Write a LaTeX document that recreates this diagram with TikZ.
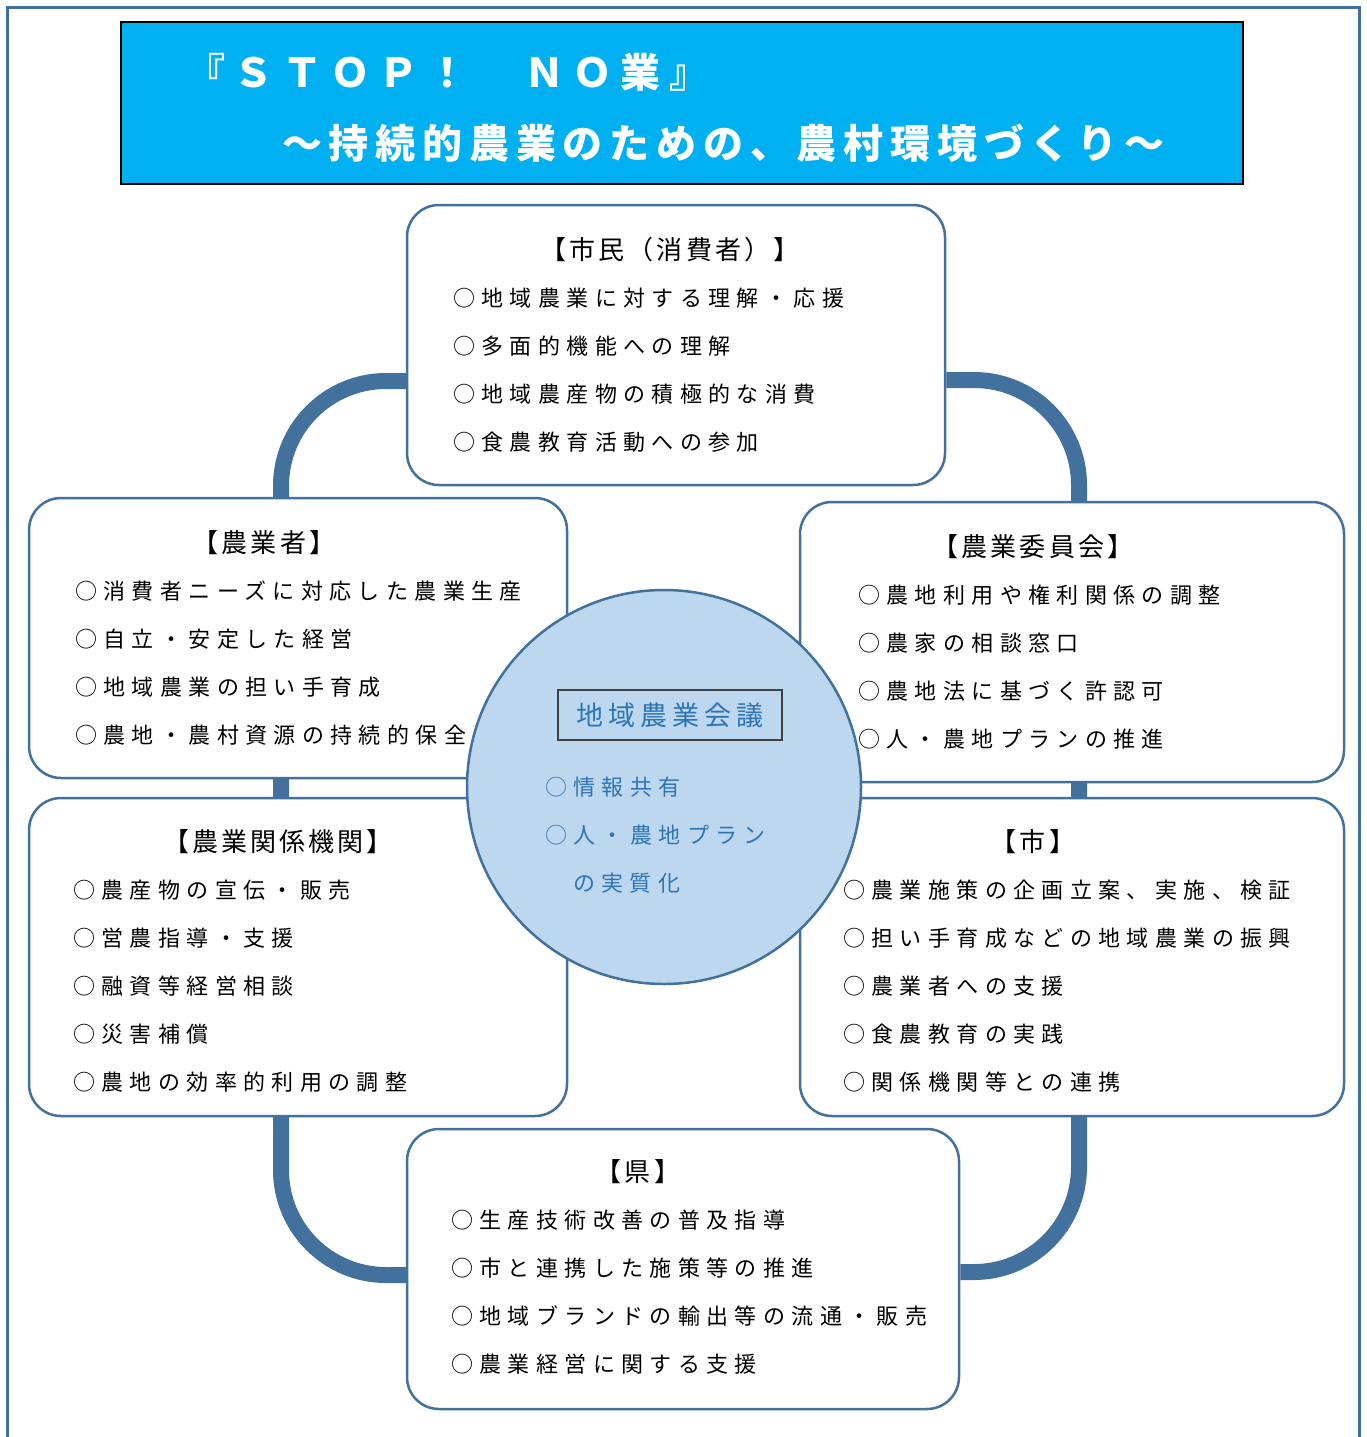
\documentclass[tikz,border=0pt]{standalone}
\usepackage{fontspec}
\newfontfamily\jpfont[LetterSpace=29]{Noto Sans CJK JP}
\newfontfamily\headfont[LetterSpace=12]{Noto Sans CJK JP}
\newfontfamily\titlefont[LetterSpace=17]{Noto Sans CJK JP}
\newfontfamily\stopfont[LetterSpace=21]{Noto Sans CJK JP}
\newfontfamily\kaigifont[LetterSpace=18]{Noto Sans CJK JP}
\usetikzlibrary{positioning,calc,backgrounds}
\definecolor{railblue}{HTML}{41719C}
\definecolor{titlebg}{HTML}{00B0F0}
\definecolor{circbg}{HTML}{BDD7EE}
\definecolor{kaigiblue}{HTML}{2E75B6}

\begin{document}
\begin{tikzpicture}[
    x=1pt, y=-1pt,
    box/.style = {draw=railblue, line width=2.5pt, fill=white, rounded corners=32pt, inner sep=0pt},
    rail/.style = {draw=railblue, line width=16pt, rounded corners=105pt},
    item/.style = {anchor=base west, inner sep=0pt, font=\fontsize{22}{26}\jpfont},
    head/.style = {anchor=base, inner sep=0pt, font=\fontsize{26}{30}\headfont},
    titletext/.style = {anchor=base west, inner sep=0pt, text=white, font=\fontsize{40}{44}\titlefont\bfseries}
  ]
  \useasboundingbox (0,0) rectangle (1367,1437);
  % 外枠
  \draw[railblue, line width=3pt] (7,1437) -- (7,8) -- (1359,8) -- (1359,1437);

  % タイトル
  \node[draw=black, line width=1.5pt, fill=titlebg, minimum width=1122pt, minimum height=162pt, inner sep=0pt] (title) at (682,103) {};
  \node[titletext, font=\fontsize{40}{44}\stopfont\bfseries] (title-1) at (185,88) {『ＳＴＯＰ！　ＮＯ業』};
  \node[titletext] (title-2) at (282,158) {～持続的農業のための、農村環境づくり～};

  % 各主体
  \node[box, minimum width=538pt, minimum height=280pt] (shimin) at (676,345) {};
  \node[box, minimum width=538pt, minimum height=280pt] (nogyosha) at (298,638) {};
  \node[box, minimum width=544pt, minimum height=280pt] (iinkai) at (1072,642) {};
  \node[box, minimum width=538pt, minimum height=318pt] (kikan) at (298,957) {};
  \node[box, minimum width=544pt, minimum height=318pt] (shi) at (1072,957) {};
  \node[box, minimum width=552pt, minimum height=280pt] (ken) at (683,1269) {};

  % つなぐ線
  \coordinate (lrail) at (281,800);
  \coordinate (rrail) at (1079,800);
  \begin{scope}[on background layer]
    \draw[rail] ([yshift=-36pt]shimin.west) -| (lrail) |- ([yshift=-6pt]ken.west);
    \draw[rail] ([yshift=-35pt]shimin.east) -| (rrail) |- ([yshift=-3pt]ken.east);
  \end{scope}

  % 市民
  \node[head] (shimin-h) at (670,259) {【市民（消費者）】};
  \foreach \t [count=\i from 0] in {○地域農業に対する理解・応援, ○多面的機能への理解,
      ○地域農産物の積極的な消費, ○食農教育活動への参加}
    \node[item] (shimin-\i) at (453,{306+48*\i}) {\t};

  % 農業者
  \node[head] (nogyosha-h) at (264,552) {【農業者】};
  \foreach \t [count=\i from 0] in {○消費者ニーズに対応した農業生産, ○自立・安定した経営,
      ○地域農業の担い手育成, ○農地・農村資源の持続的保全}
    \node[item] (nogyosha-\i) at (75,{599+48*\i}) {\t};

  % 農業委員会
  \node[head] (iinkai-h) at (1033,556) {【農業委員会】};
  \foreach \t [count=\i from 0] in {○農地利用や権利関係の調整, ○農家の相談窓口,
      ○農地法に基づく許認可, ○人・農地プランの推進}
    \node[item] (iinkai-\i) at (858,{603+48*\i}) {\t};

  % 農業関係機関
  \node[head] (kikan-h) at (278,851) {【農業関係機関】};
  \foreach \t [count=\i from 0] in {○農産物の宣伝・販売, ○営農指導・支援, ○融資等経営相談,
      ○災害補償, ○農地の効率的利用の調整}
    \node[item] (kikan-\i) at (73,{898+48*\i}) {\t};

  % 市
  \node[head] (shi-h) at (1033,851) {【市】};
  \foreach \t [count=\i from 0] in {○農業施策の企画立案、実施、検証, ○担い手育成などの地域農業の振興,
      ○農業者への支援, ○食農教育の実践, ○関係機関等との連携}
    \node[item] (shi-\i) at (843,{898+48*\i}) {\t};

  % 県
  \node[head] (ken-h) at (638,1181) {【県】};
  \foreach \t [count=\i from 0] in {○生産技術改善の普及指導, ○市と連携した施策等の推進,
      ○地域ブランドの輸出等の流通・販売, ○農業経営に関する支援}
    \node[item] (ken-\i) at (451,{1228+48*\i}) {\t};

  % 地域農業会議
  \node[circle, draw=railblue, line width=2.5pt, fill=circbg, minimum size=394pt, inner sep=0pt] (kaigi) at (664,787) {};
  \node[draw=black!75, line width=1.5pt, minimum width=224pt, minimum height=50pt, inner sep=0pt,
    text=kaigiblue, font=\fontsize{27}{30}\kaigifont] (kaigi-h) at (670,715) {地域農業会議};
  \node[item, text=kaigiblue] (kaigi-1) at (545,795) {○情報共有};
  \node[item, text=kaigiblue] (kaigi-2) at (545,843) {○人・農地プラン};
  \node[item, text=kaigiblue] (kaigi-3) at (573,891) {の実質化};
\end{tikzpicture}
\end{document}
